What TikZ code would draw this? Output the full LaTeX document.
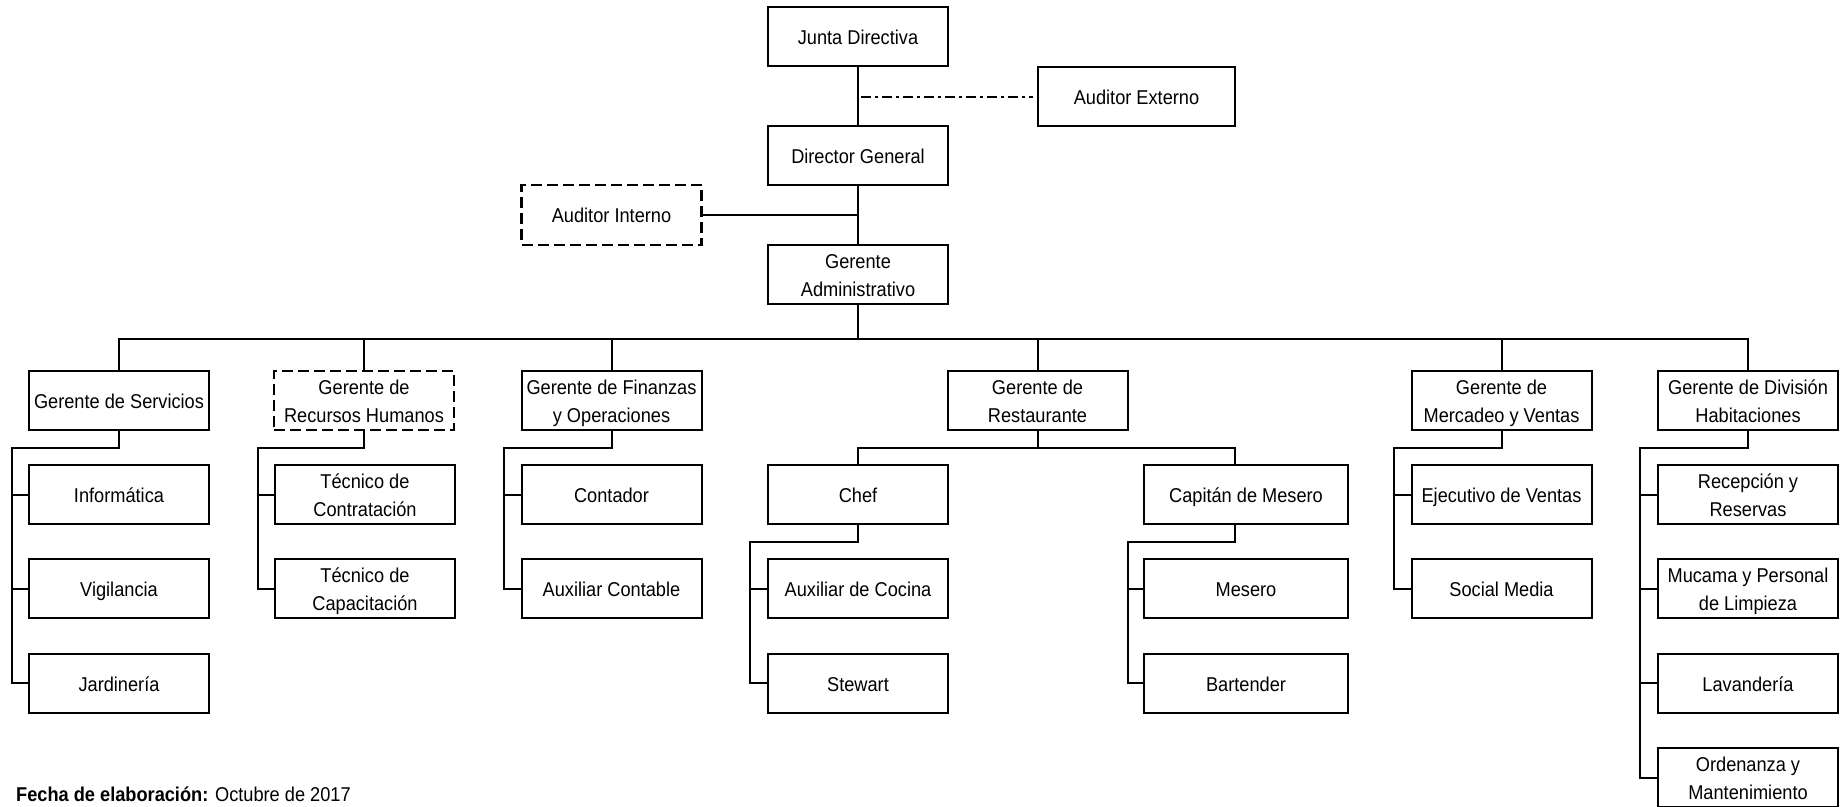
\documentclass[tikz,border=0pt]{standalone}
\usepackage{fontspec}
\setmainfont{Liberation Sans}[FakeStretch=0.91]
\newcommand\boxstrut{\rule[-4.4pt]{0pt}{24.4pt}}
\newcommand\bx[1]{\boxstrut#1\boxstrut}
\begin{document}
\begin{tikzpicture}[x=1pt,y=-1pt,
  box/.style={draw, line width=2pt, minimum height=59pt, minimum width=180pt, inner sep=2pt, align=center, font=\fontsize{20}{28}\selectfont},
  dbox/.style={box, dash pattern=on 11pt off 5pt, line width=2.6pt},
  conn/.style={line width=2pt},
  dashdot/.style={line width=2pt, dash pattern=on 10pt off 4pt on 3pt off 4pt}]
\useasboundingbox (0,0) rectangle (1847,806);

% top
\node[box] (jd) at (858,36.5) {\bx{Junta Directiva}};
\node[box, minimum width=197pt] (ae) at (1136.5,96.5) {\bx{Auditor Externo}};
\node[box] (dg) at (858,155.5) {\bx{Director General}};
\node[dbox, minimum height=60pt] (ai) at (611.5,215) {\bx{Auditor Interno}};
\node[box] (ga) at (858,274.5) {\bx{Gerente\\Administrativo}};

% level 2
\node[box] (gs) at (119,400.5) {\bx{Gerente de Servicios}};
\node[dbox] (grh) at (364,400.5) {\bx{Gerente de\\Recursos Humanos}};
\node[box] (gf) at (611.5,400.5) {\bx{Gerente de Finanzas\\y Operaciones}};
\node[box] (gr) at (1037.5,400.5) {\bx{Gerente de\\Restaurante}};
\node[box] (gm) at (1501.5,400.5) {\bx{Gerente de\\Mercadeo y Ventas}};
\node[box] (gh) at (1748,400.5) {\bx{Gerente de División\\Habitaciones}};

% level 3
\node[box] (s1) at (119,494.5) {\bx{Informática}};
\node[box] (s2) at (119,588.8) {\bx{Vigilancia}};
\node[box] (s3) at (119,683.2) {\bx{Jardinería}};

\node[box] (rh1) at (365,494.5) {\bx{Técnico de\\Contratación}};
\node[box] (rh2) at (365,588.8) {\bx{Técnico de\\Capacitación}};

\node[box] (f1) at (611.5,494.5) {\bx{Contador}};
\node[box] (f2) at (611.5,588.8) {\bx{Auxiliar Contable}};

\node[box] (chef) at (858,494.5) {\bx{Chef}};
\node[box, minimum width=204pt] (cap) at (1246,494.5) {\bx{Capitán de Mesero}};
\node[box] (ck1) at (858,588.8) {\bx{Auxiliar de Cocina}};
\node[box] (ck2) at (858,683.2) {\bx{Stewart}};
\node[box, minimum width=204pt] (m1) at (1246,588.8) {\bx{Mesero}};
\node[box, minimum width=204pt] (m2) at (1246,683.2) {\bx{Bartender}};

\node[box] (mv1) at (1501.5,494.5) {\bx{Ejecutivo de Ventas}};
\node[box] (mv2) at (1501.5,588.8) {\bx{Social Media}};

\node[box] (h1) at (1748,494.5) {\bx{Recepción y\\Reservas}};
\node[box] (h2) at (1748,588.8) {\bx{Mucama y Personal\\de Limpieza}};
\node[box] (h3) at (1748,683.2) {\bx{Lavandería}};
\node[box] (h4) at (1748,777.5) {\bx{Ordenanza y\\Mantenimiento}};

% footer
\node[anchor=base west, inner sep=0pt, font=\fontsize{20}{24}\selectfont] (fecha) at (16,801) {\textbf{Fecha de elaboración:} Octubre de 2017};

% connectors top
\draw[conn] (jd.south) -- (dg.north);
\draw[conn] (dg.south) -- (ga.north);
\draw[dashdot, shorten <=3pt, shorten >=4pt] (jd.south |- ae.west) -- (ae.west);
\draw[conn] (ai.east) -- (ai.east -| dg.south);

% bus
\coordinate (bus) at (858,339);
\foreach \n in {gs,grh,gf,gr,gm,gh}
  \draw[conn] (ga.south) -- (bus) -| (\n.north);

% spines
\coordinate (sps) at (12,448);
\foreach \c in {s1,s2,s3} \draw[conn] (gs.south) |- (sps) |- (\c.west);
\coordinate (sprh) at (258,448);
\foreach \c in {rh1,rh2} \draw[conn] (grh.south) |- (sprh) |- (\c.west);
\coordinate (spf) at (504,448);
\foreach \c in {f1,f2} \draw[conn] (gf.south) |- (spf) |- (\c.west);
\coordinate (spm) at (1394,448);
\foreach \c in {mv1,mv2} \draw[conn] (gm.south) |- (spm) |- (\c.west);
\coordinate (sph) at (1640,448);
\foreach \c in {h1,h2,h3,h4} \draw[conn] (gh.south) |- (sph) |- (\c.west);

% restaurant
\coordinate (rbus) at (1037.5,448);
\coordinate (capj) at (1235,0);
\draw[conn] (gr.south) -- (rbus) -| (chef.north);
\draw[conn] (rbus) -| (capj |- cap.north);
\coordinate (spc) at (750,541.5);
\foreach \c in {ck1,ck2} \draw[conn] (chef.south) |- (spc) |- (\c.west);
\coordinate (spk) at (1128,541.5);
\foreach \c in {m1,m2} \draw[conn] (capj |- cap.south) |- (spk) |- (\c.west);
\end{tikzpicture}
\end{document}
